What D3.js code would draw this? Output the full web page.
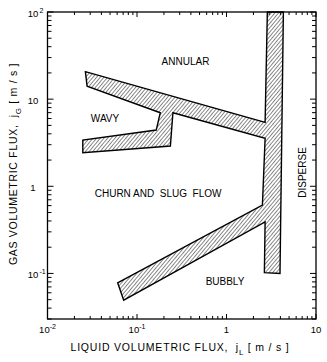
<html>
<head>
<script src="https://d3js.org/d3.v7.min.js"></script>
<style>
body { margin: 0; background: #fff; }
text { font-family: "Liberation Sans", Arial, sans-serif; fill: #000; }
</style>
</head>
<body>
<svg id="chart" width="327" height="362"></svg>
<script>
// outline of the hatched transition zone, (jL, jG) in m/s, traced clockwise
const boundaryJL = [2.86, 4.32, 3.96, 2.65, 2.70, 0.071, 0.0608, 2.52, 2.70, 0.252, 0.236, 0.0248, 0.0248, 0.164, 0.182, 0.0277, 0.0265, 2.70];
const boundaryJG = [100, 100, 0.1, 0.102, 0.391, 0.0493, 0.078, 0.608, 3.55, 6.98, 2.90, 2.43, 3.39, 4.42, 6.98, 14.1, 20.7, 5.42];

// regime names and where they sit
const regimeNames = ['ANNULAR', 'WAVY', 'CHURN AND  SLUG  FLOW', 'BUBBLY'];
const regimeJL = [0.348, 0.0439, 0.172, 0.962];
const regimeJG = [24.6, 5.5, 0.752, 0.0735];
const disperseJL = 7.73, disperseJG = 1.44;

const xTickVals = [0.01, 0.1, 1, 10];
const xTickBase = ['10', '10', '1', '10'];
const xTickExp = ['-2', '-1', '', ''];
const yTickVals = [0.1, 1, 10, 100];
const yTickBase = ['10', '1', '10', '10'];
const yTickExp = ['-1', '', '', '2'];

const svg = d3.select('svg#chart');
const pLeft = 47.5, pRight = 316, pTop = 12, pBottom = 319;

const x = d3.scaleLog().domain([0.01, 10]).range([pLeft, pRight]);
const y = d3.scaleLog().domain([0.03, 100]).range([pBottom, pTop]);

// hatch pattern
const defs = svg.append('defs');
const pat = defs.append('pattern')
    .attr('id', 'hatch')
    .attr('patternUnits', 'userSpaceOnUse')
    .attr('width', 2.8).attr('height', 2.8)
    .attr('patternTransform', 'rotate(40)');
pat.append('line')
    .attr('x1', 0).attr('y1', 0).attr('x2', 0).attr('y2', 2.8)
    .attr('stroke', '#111').attr('stroke-width', 1);

const pts = boundaryJL.map((d, i) => [x(d), y(boundaryJG[i])]);
svg.append('path')
    .attr('d', d3.line()(pts) + 'Z')
    .attr('fill', 'url(#hatch)')
    .attr('stroke', '#000')
    .attr('stroke-width', 1.4)
    .attr('stroke-linejoin', 'miter');

// frame
svg.append('rect')
    .attr('x', pLeft).attr('y', pTop)
    .attr('width', pRight - pLeft).attr('height', pBottom - pTop)
    .attr('fill', 'none').attr('stroke', '#000').attr('stroke-width', 1.3);

// inward ticks on all four sides
const isMajor = v => Math.abs(Math.log10(v) - Math.round(Math.log10(v))) < 1e-6;
const ticks = svg.append('g').attr('stroke', '#000').attr('stroke-width', 1);
x.ticks().forEach(v => {
    const len = isMajor(v) ? 5 : 3;
    ticks.append('line').attr('x1', x(v)).attr('x2', x(v)).attr('y1', pBottom).attr('y2', pBottom - len);
    ticks.append('line').attr('x1', x(v)).attr('x2', x(v)).attr('y1', pTop).attr('y2', pTop + len);
});
y.ticks().forEach(v => {
    const len = isMajor(v) ? 6 : 4;
    ticks.append('line').attr('y1', y(v)).attr('y2', y(v)).attr('x1', pLeft).attr('x2', pLeft + len);
    ticks.append('line').attr('y1', y(v)).attr('y2', y(v)).attr('x1', pRight).attr('x2', pRight - len);
});

// tick labels
xTickVals.forEach((v, i) => {
    const t = svg.append('text')
        .attr('x', x(v)).attr('y', 333)
        .attr('text-anchor', 'middle')
        .attr('font-size', 9.5)
        .text(xTickBase[i]);
    if (xTickExp[i]) {
        t.append('tspan').attr('dy', -4).attr('font-size', 7).text(xTickExp[i]);
    }
});
yTickVals.forEach((v, i) => {
    svg.append('text')
        .attr('x', 33).attr('y', y(v) + 4.5)
        .attr('text-anchor', 'middle')
        .attr('font-size', 9.5)
        .text(yTickBase[i]);
    if (yTickExp[i]) {
        svg.append('text')
            .attr('x', 39.5).attr('y', y(v) + 0.5)
            .attr('font-size', 7)
            .text(yTickExp[i]);
    }
});

// regime labels
regimeNames.forEach((n, i) => {
    svg.append('text')
        .attr('x', x(regimeJL[i])).attr('y', y(regimeJG[i]))
        .attr('text-anchor', 'middle')
        .attr('font-size', 10)
        .style('white-space', 'pre')
        .text(n);
});
svg.append('text')
    .attr('transform', `translate(${x(disperseJL)},${y(disperseJG)}) rotate(-90)`)
    .attr('text-anchor', 'middle')
    .attr('font-size', 10)
    .text('DISPERSE');

// axis titles
const xt = svg.append('text')
    .attr('x', 180).attr('y', 351)
    .attr('text-anchor', 'middle')
    .attr('font-size', 10.5)
    .attr('letter-spacing', 0.8)
    .style('white-space', 'pre')
    .text('LIQUID VOLUMETRIC FLUX,  j');
xt.append('tspan').attr('dy', 4).attr('font-size', 8).text('L');
xt.append('tspan').attr('dy', -4).text(' [ m / s ]');

const yt = svg.append('text')
    .attr('transform', `translate(17,164) rotate(-90)`)
    .attr('text-anchor', 'middle')
    .attr('font-size', 10.5)
    .attr('letter-spacing', 0.7)
    .style('white-space', 'pre')
    .text('GAS VOLUMETRIC FLUX,  j');
yt.append('tspan').attr('dy', 4).attr('font-size', 8).text('G');
yt.append('tspan').attr('dy', -4).text(' [ m / s ]');
</script>
</body>
</html>
